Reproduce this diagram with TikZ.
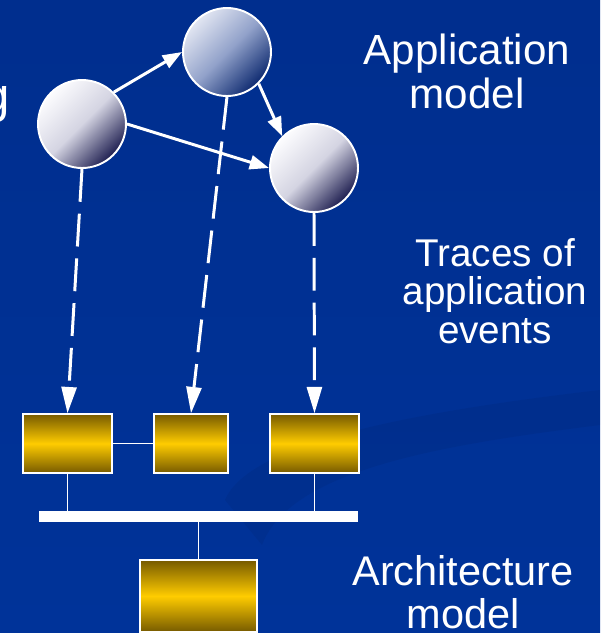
\documentclass[tikz,border=0pt]{standalone}
\usepackage{fontspec}
\setmainfont{Liberation Sans}
\usetikzlibrary{arrows.meta}

\definecolor{slideblue}{RGB}{0,51,153}
\definecolor{slidetop}{RGB}{0,46,142}
\definecolor{taskhi}{RGB}{252,252,254}
\definecolor{taskmid}{RGB}{212,212,226}
\definecolor{tasklo}{RGB}{30,30,80}
\definecolor{bluehi}{RGB}{226,230,242}
\definecolor{bluemid}{RGB}{146,162,202}
\definecolor{bluelo}{RGB}{14,42,112}
\definecolor{golddark}{RGB}{118,90,0}
\definecolor{gold}{RGB}{255,204,0}

\begin{document}
\begin{tikzpicture}
  [x=0.02cm,y=-0.02cm,every node/.style={inner sep=0pt}]
  \tikzstyle{task} = [circle,draw=white,line width=1.1pt,minimum size=1.76cm,
    top color=taskhi,bottom color=tasklo,middle color=taskmid,shading angle=45]
  \tikzstyle{unit} = [rectangle,draw=white,line width=0.8pt,minimum height=1.18cm,
    top color=golddark,bottom color=golddark,middle color=gold]
  \tikzstyle{sidetext} = [text=white,align=center,anchor=base]
  \tikzstyle{msg} = [white,line width=1.7pt,-{Triangle[length=11pt,width=8pt]}]
  \tikzstyle{trace} = [white,line width=1.7pt,dash pattern=on 18.7pt off 6.8pt,
    -{Triangle[length=15pt,width=8.5pt]}]
  \tikzstyle{wire} = [white,line width=0.9pt]

  % slide background
  \useasboundingbox (0,0) rectangle (600,633);
  \clip (0,0) rectangle (600,633);
  \shade[top color=slidetop,bottom color=slideblue] (0,0) rectangle (600,633);
  \fill[black,opacity=0.05] (225,500) .. controls (250,440) and (430,410) .. (600,390)
    -- (600,425) .. controls (440,445) and (290,470) .. (262,545) -- cycle;

  % application model
  \node[task] (a1) at (82,124) {};
  \node[task,top color=bluehi,bottom color=bluelo,middle color=bluemid,
    shading angle=45] (a2) at (227,52) {};
  \node[task] (a3) at (314,168) {};

  % architecture model
  \node[unit,minimum width=1.78cm] (p1) at (67.5,443.5) {};
  \node[unit,minimum width=1.48cm] (p2) at (191,443.5) {};
  \node[unit,minimum width=1.78cm] (p3) at (314.5,443.5) {};
  \node[fill=white,minimum width=6.38cm,minimum height=0.22cm] (bus) at (198.5,516.5) {};
  \node[unit,minimum width=2.34cm,minimum height=1.44cm] (mem) at (198.5,596) {};

  \foreach \source/\dest in {a1.45/a2.west,a1.east/a3.west,a2.-45/a3.135}
    \draw[msg] (\source) -- (\dest);
  \foreach \source/\dest in {a1/p1,a2/p2,a3/p3}
    \draw[trace] (\source.south) -- (\dest.north);

  \draw[wire] (p1) -- (p2);
  \draw[wire] (p1.south) -- (p1.south |- bus.north);
  \draw[wire] (p3.south) -- (p3.south |- bus.north);
  \draw[wire] (bus.south) -- (mem.north);

  % captions (anchored on the last line)
  \node[text=white,font=\fontsize{28}{28}\selectfont,anchor=base east] (cut) at (10,112) {g};
  \node[sidetext,font=\fontsize{24}{24.5}\selectfont] (appmodel) at (467,108) {Application\\model};
  \node[sidetext,font=\fontsize{22}{21.8}\selectfont] (traces) at (495,343) {Traces of\\application\\events};
  \node[sidetext,font=\fontsize{23.6}{24.4}\selectfont] (archmodel) at (463,628) {Architecture\\model};
\end{tikzpicture}
\end{document}
